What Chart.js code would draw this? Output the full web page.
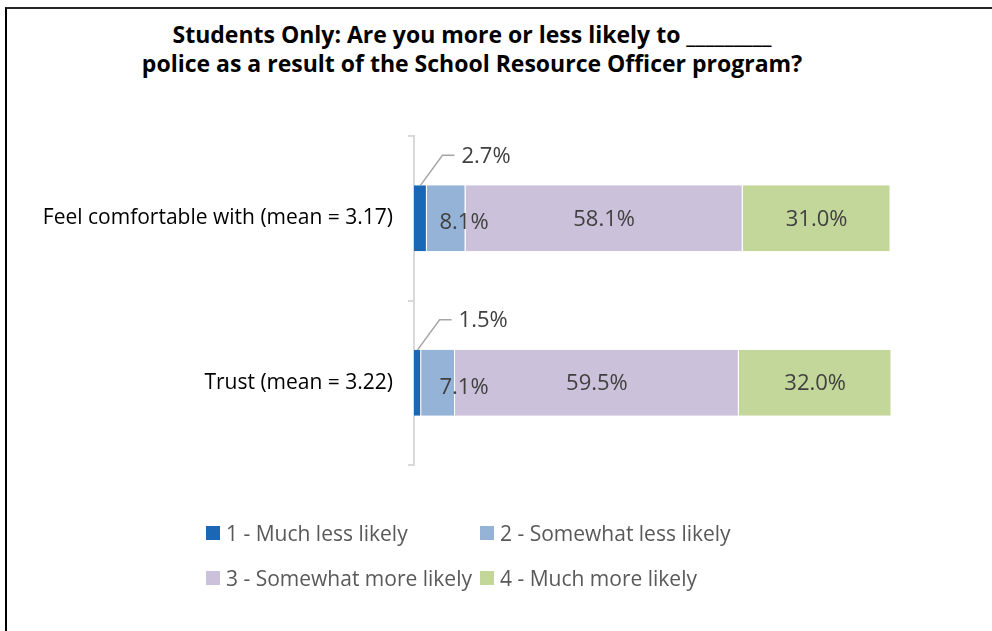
<!DOCTYPE html>
<html>
<head>
<meta charset="utf-8">
<title>SRO program - students</title>
<script src="https://cdn.jsdelivr.net/npm/chart.js@4.4.1/dist/chart.umd.min.js"></script>
<style>
    html, body { margin: 0; padding: 0; background: #fff; }
    #frame { position: relative; width: 992px; height: 631px; overflow: hidden; }
    #edge {
        position: absolute; left: 5px; top: 7px; right: 0; bottom: 0;
        border-top: 2px solid #262626; border-left: 2px solid #000;
    }
    #chartTitle {
        position: absolute; left: 0; top: 20px; width: 944px;
        text-align: center; font-family: "Open Sans", sans-serif;
        font-size: 23px; font-weight: bold; line-height: 29px; color: #000;
    }
    #chartBox { position: absolute; left: 0; top: 0; width: 944px; height: 631px; }
    #legend {
        position: absolute; left: 206px; top: 511px;
        display: grid; grid-template-columns: 274px auto;
        font-family: "Open Sans", sans-serif; font-size: 21px; color: #595959;
    }
    .legend-item { display: flex; align-items: center; height: 44.5px; white-space: nowrap; }
    .legend-box { width: 14px; height: 14px; margin-right: 6px; }
</style>
</head>
<body>
<div id="frame">
    <div id="edge"></div>
    <div id="chartTitle"></div>
    <div id="chartBox"><canvas id="sroChart"></canvas></div>
    <div id="legend"></div>
</div>
<script>
// Categorias y respuestas (porcentaje de estudiantes)
const categories = ['Feel comfortable with (mean = 3.17)', 'Trust (mean = 3.22)'];
const seriesLabels = ['1 - Much less likely', '2 - Somewhat less likely', '3 - Somewhat more likely', '4 - Much more likely'];
const muchLess = [2.7, 1.5];
const somewhatLess = [8.1, 7.1];
const somewhatMore = [58.1, 59.5];
const muchMore = [31.0, 32.0];
const seriesColors = ['#1967b5', '#95b3d7', '#ccc1da', '#c4d79b'];

const titleLines = [
    'Students Only: Are you more or less likely to _________',
    'police as a result of the School Resource Officer program?'
];

// Etiquetas de valor sobre cada segmento
const valueLabels = {
    id: 'valueLabels',
    afterDatasetsDraw(chart) {
        const ctx = chart.ctx;
        const xScale = chart.scales.x;
        ctx.save();
        ctx.font = '22px "Open Sans"';
        ctx.fillStyle = '#404040';
        ctx.textBaseline = 'middle';
        chart.data.datasets.forEach((ds, i) => {
            chart.getDatasetMeta(i).data.forEach((bar, j) => {
                const text = ds.data[j].toFixed(1) + '%';
                const top = bar.y - bar.height / 2;
                if (i === 0) {
                    // segmento muy delgado: linea guia hacia arriba
                    const x0 = (bar.x + bar.base) / 2;
                    ctx.strokeStyle = '#a6a6a6';
                    ctx.lineWidth = 1.5;
                    ctx.beginPath();
                    ctx.moveTo(x0, top);
                    ctx.lineTo(x0 + 22, top - 30);
                    ctx.lineTo(x0 + 34, top - 30);
                    ctx.stroke();
                    ctx.textAlign = 'left';
                    ctx.fillText(text, x0 + 41, top - 29);
                } else if (i === 1) {
                    ctx.textAlign = 'center';
                    ctx.fillText(text, xScale.left + 50, bar.y + 4.5);
                } else {
                    ctx.textAlign = 'center';
                    ctx.fillText(text, (bar.x + bar.base) / 2, bar.y + 1);
                }
            });
        });
        ctx.restore();
    }
};

function buildLegend(chart) {
    const box = document.getElementById('legend');
    box.innerHTML = '';
    chart.data.datasets.forEach(ds => {
        const item = document.createElement('div');
        item.className = 'legend-item';
        item.innerHTML = `<span class="legend-box" style="background:${ds.backgroundColor}"></span>${ds.label}`;
        box.appendChild(item);
    });
}

function drawChart() {
    document.getElementById('chartTitle').innerHTML = titleLines.join('<br>');

    const values = [muchLess, somewhatLess, somewhatMore, muchMore];
    const chart = new Chart(document.getElementById('sroChart'), {
        type: 'bar',
        data: {
            labels: categories,
            datasets: seriesLabels.map((label, i) => ({
                label: label,
                data: values[i],
                backgroundColor: seriesColors[i],
                borderColor: '#ffffff',
                borderWidth: { left: 0, right: 1, top: 0, bottom: 0 },
                borderSkipped: false,
                barPercentage: 1,
                categoryPercentage: 0.4
            }))
        },
        options: {
            indexAxis: 'y',
            responsive: true,
            maintainAspectRatio: false,
            animation: false,
            layout: { padding: { left: 0, right: 53, top: 136, bottom: 166 } },
            scales: {
                x: { stacked: true, display: false, min: 0, max: 100 },
                y: {
                    stacked: true,
                    afterFit: scale => { scale.width = 414; },
                    grid: {
                        offset: true,
                        drawOnChartArea: false,
                        tickLength: 6,
                        color: '#d9d9d9',
                        lineWidth: 2
                    },
                    border: { color: '#d9d9d9', width: 2 },
                    ticks: {
                        padding: 15,
                        color: '#000',
                        font: { family: 'Open Sans', size: 21 }
                    }
                }
            },
            plugins: {
                legend: { display: false },
                tooltip: { enabled: false },
                title: { display: false }
            }
        },
        plugins: [valueLabels]
    });
    buildLegend(chart);
}

Promise.all([
    document.fonts.load('21px "Open Sans"'),
    document.fonts.load('bold 23px "Open Sans"')
]).then(drawChart, drawChart);
</script>
</body>
</html>
